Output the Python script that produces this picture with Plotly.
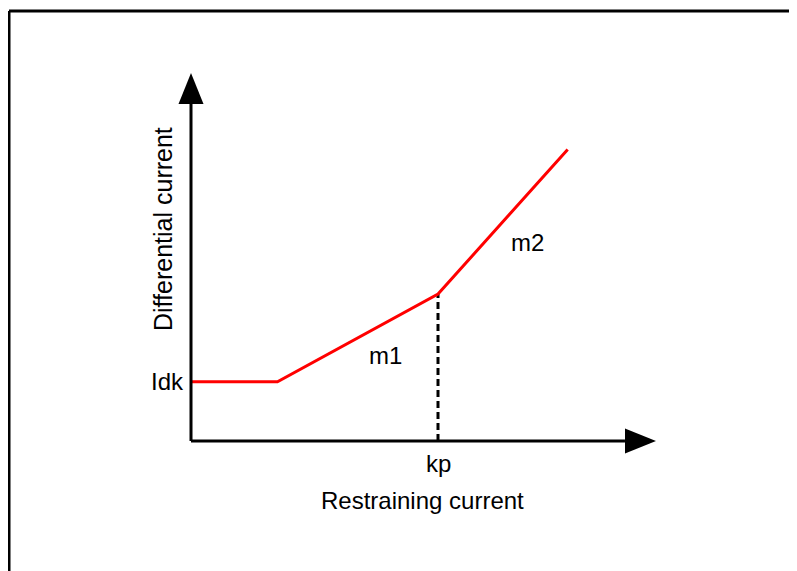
import plotly.graph_objects as go

# ---- data (arbitrary current units) ----
restraining = [0.0, 0.70, 2.00, 3.05]
differential = [0.48, 0.48, 1.19, 2.36]
kp_value = 2.00
idk_value = 0.48
x_title = "Restraining current"
y_title = "Differential current"
kp_label = "kp"
idk_label = "Idk"
slope_labels = ["m1", "m2"]

# ---- geometry ----
W, H = 797, 571
PAD = 8                       # page body margin offset
S = 123.5                     # px per unit
ox, oy = 191 - PAD, 441 - PAD  # origin in px (figure coordinates)
xr = [-ox / S, (W - ox) / S]
yr = [-(H - oy) / S, oy / S]

X_END = 3.765                 # x arrow tip
Y_END = 2.98                  # y arrow tip
AL = 31 / S                   # arrow length
AW = 12.5 / S                 # arrow half width

fig = go.Figure()

# dashed line at kp
fig.add_trace(go.Scatter(
    x=[kp_value, kp_value], y=[0, differential[2]],
    mode="lines", line=dict(color="black", width=3, dash="7px,4px"),
    hoverinfo="skip", showlegend=False))

# characteristic
fig.add_trace(go.Scatter(
    x=restraining, y=differential, mode="lines",
    line=dict(color="#ff0000", width=3), hoverinfo="skip", showlegend=False))

shapes = [
    dict(type="line", xref="x", yref="y", x0=0, y0=0, x1=X_END - AL, y1=0,
         line=dict(color="black", width=3)),
    dict(type="line", xref="x", yref="y", x0=0, y0=0, x1=0, y1=Y_END - AL,
         line=dict(color="black", width=3)),
    dict(type="path", xref="x", yref="y",
         path=f"M{X_END - AL},{AW} L{X_END},0 L{X_END - AL},{-AW} Z",
         fillcolor="black", line=dict(color="black", width=0)),
    dict(type="path", xref="x", yref="y",
         path=f"M{-AW},{Y_END - AL} L0,{Y_END} L{AW},{Y_END - AL} Z",
         fillcolor="black", line=dict(color="black", width=0)),
    # frame (top and left)
    dict(type="line", xref="paper", yref="paper", x0=(9 - PAD) / W, y0=1 - (11 - PAD) / H,
         x1=1, y1=1 - (11 - PAD) / H, line=dict(color="black", width=3)),
    dict(type="line", xref="paper", yref="paper", x0=(9 - PAD) / W, y0=1 - (11 - PAD) / H,
         x1=(9 - PAD) / W, y1=0, line=dict(color="black", width=3)),
]

font = dict(family="Liberation Sans, Arial, sans-serif", size=24, color="black")
font_y = dict(family="Liberation Sans, Arial, sans-serif", size=25, color="black")


def px2x(p):
    return (p - PAD - ox) / S


def px2y(p):
    return (oy - (p - PAD)) / S


annotations = [
    dict(x=px2x(422), y=px2y(500), text=x_title, showarrow=False, font=font,
         xanchor="center", yanchor="middle"),
    dict(x=px2x(163), y=px2y(229), text=y_title, showarrow=False, font=font_y,
         textangle=-90, xanchor="center", yanchor="middle"),
    dict(x=kp_value, y=px2y(463), text=kp_label, showarrow=False, font=font,
         xanchor="center", yanchor="middle"),
    dict(x=px2x(184), y=idk_value, text=idk_label, showarrow=False, font=font,
         xanchor="right", yanchor="middle", xshift=2),
    dict(x=px2x(385), y=px2y(355), text=slope_labels[0], showarrow=False, font=font,
         xanchor="center", yanchor="middle"),
    dict(x=px2x(527), y=px2y(242), text=slope_labels[1], showarrow=False, font=font,
         xanchor="center", yanchor="middle"),
]

fig.update_layout(
    width=W, height=H,
    margin=dict(l=0, r=0, t=0, b=0),
    paper_bgcolor="white", plot_bgcolor="white",
    xaxis=dict(range=xr, visible=False, fixedrange=True),
    yaxis=dict(range=yr, visible=False, fixedrange=True),
    shapes=shapes, annotations=annotations,
    showlegend=False,
)

fig.write_html("out.html", config={"displayModeBar": False})
